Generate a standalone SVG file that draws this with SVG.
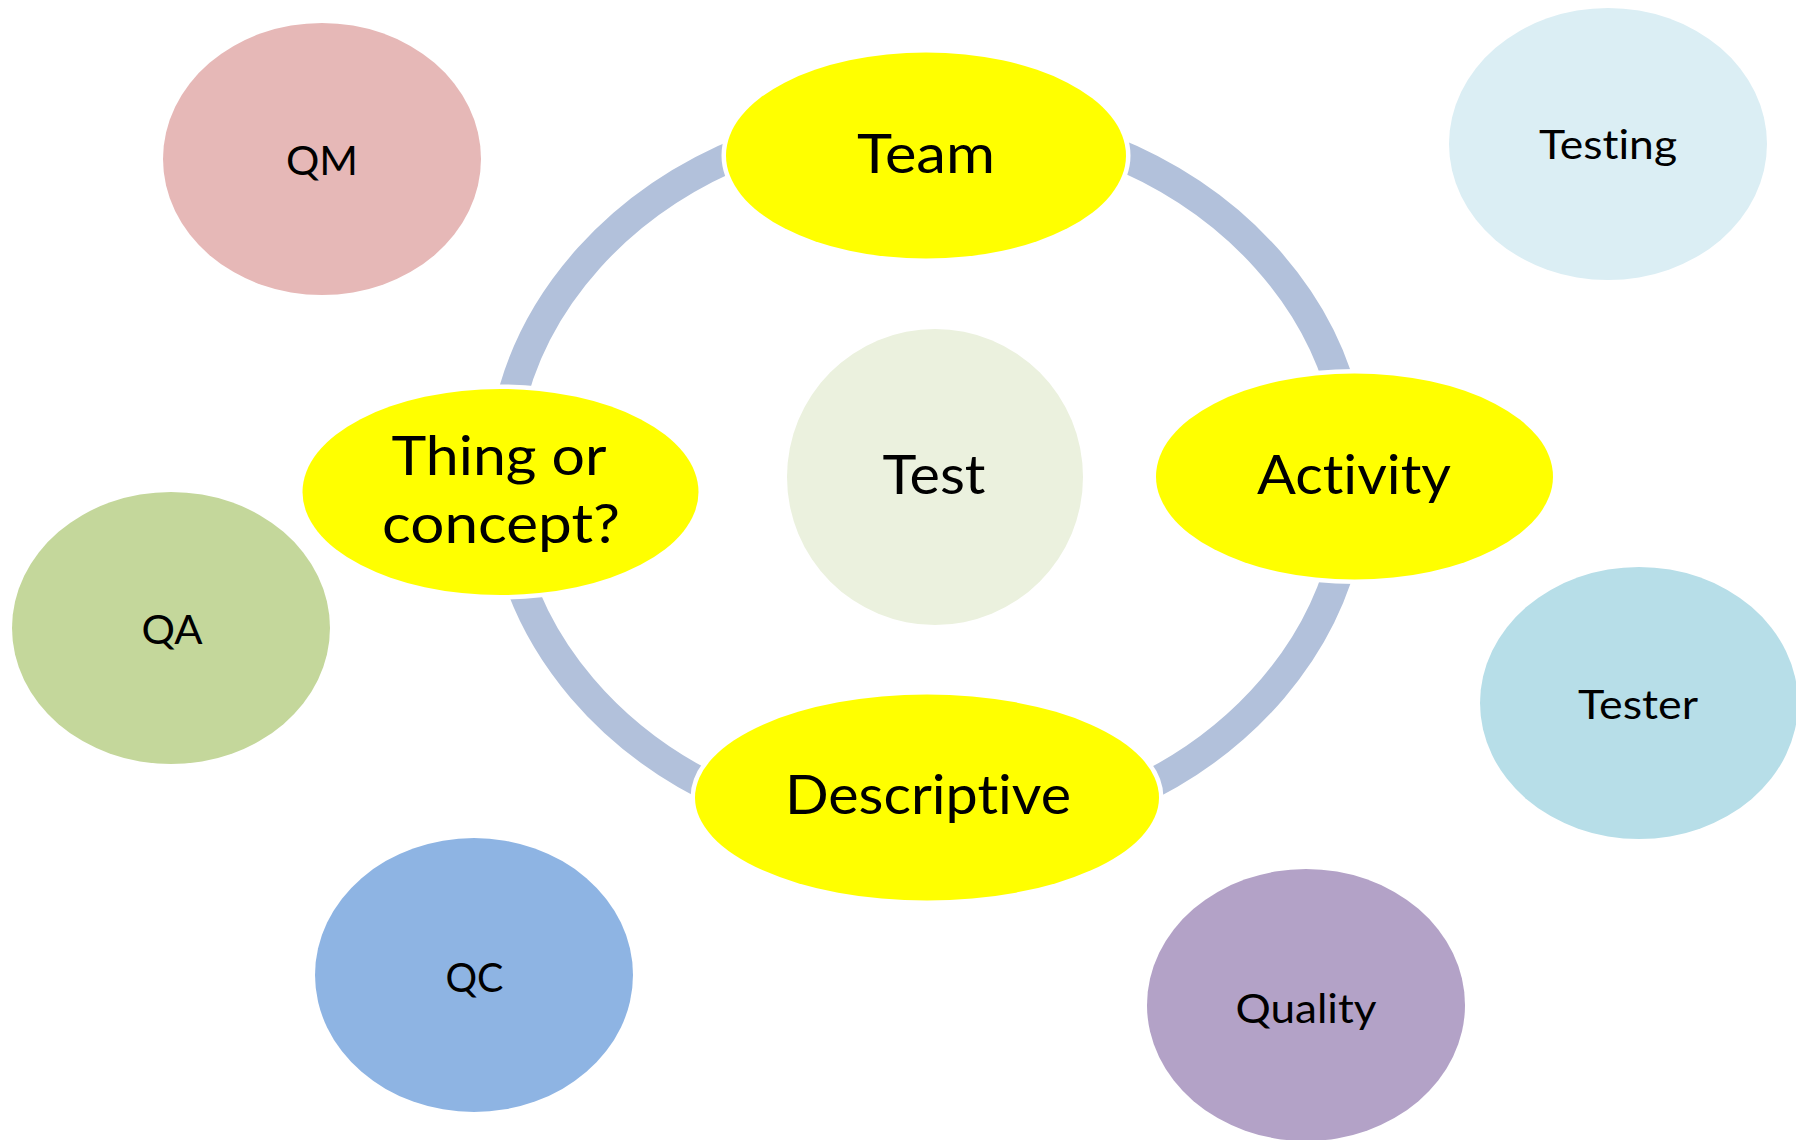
<svg xmlns="http://www.w3.org/2000/svg" width="1796" height="1140" viewBox="0 0 1796 1140">
<style>
  .cyc { fill: #FFFF00; stroke: #FFFFFF; stroke-width: 9; paint-order: stroke; }
  .arc { fill: none; stroke: #B2C1DB; stroke-width: 30; stroke-linecap: butt; }
  .big { font-family: Lato, "Open Sans", "Liberation Sans", sans-serif; font-size: 55px; fill: #000000; text-anchor: middle; font-variant-ligatures: none; font-feature-settings: "liga" 0, "clig" 0; }
  .small { font-family: Lato, "Open Sans", "Liberation Sans", sans-serif; font-size: 41px; fill: #000000; text-anchor: middle; font-variant-ligatures: none; font-feature-settings: "liga" 0, "clig" 0; }
</style>
<rect x="0" y="0" width="1796" height="1140" fill="#FFFFFF"/>

<g id="outer-QM"><ellipse cx="322" cy="159" rx="159" ry="136" fill="#E6B8B7"/><text class="small" x="322" y="175" textLength="72" lengthAdjust="spacingAndGlyphs">QM</text></g>
<g id="outer-Testing"><ellipse cx="1608" cy="144" rx="159" ry="136" fill="#DBEEF4"/><text class="small" x="1608" y="159" textLength="138" lengthAdjust="spacingAndGlyphs">Testing</text></g>
<g id="outer-QA"><ellipse cx="171" cy="628" rx="159" ry="136" fill="#C4D79B"/><text class="small" x="172" y="644" textLength="61" lengthAdjust="spacingAndGlyphs">QA</text></g>
<g id="outer-QC"><ellipse cx="474" cy="975" rx="159" ry="137" fill="#8EB4E3"/><text class="small" x="474.5" y="991.5" textLength="58" lengthAdjust="spacingAndGlyphs">QC</text></g>
<g id="outer-Tester"><ellipse cx="1639" cy="703" rx="159" ry="136" fill="#B7DEE8"/><text class="small" x="1638" y="718.5" textLength="120" lengthAdjust="spacingAndGlyphs">Tester</text></g>
<g id="outer-Quality"><ellipse cx="1306" cy="1005" rx="159" ry="136" fill="#B3A2C7"/><text class="small" x="1306" y="1023" textLength="141" lengthAdjust="spacingAndGlyphs">Quality</text></g>

<g id="connectors">
  <path class="arc" d="M 1107.5 149.8 A 426 361 0 0 1 1347.5 416.6"/>
  <path class="arc" d="M 1347.5 537.4 A 426 361 0 0 1 1127.5 795.7"/>
  <path class="arc" d="M 727.5 795.7 A 426 361 0 0 1 507.5 537.4"/>
  <path class="arc" d="M 507.5 416.6 A 426 361 0 0 1 747.5 149.8"/>
</g>

<g id="center-Test"><circle cx="935" cy="477" r="148" fill="#EBF1DE"/><text class="big" x="934" y="494.3" textLength="103" lengthAdjust="spacingAndGlyphs">Test</text></g>
<g id="node-Team"><ellipse class="cyc" cx="926" cy="155.5" rx="200" ry="103"/><text class="big" x="926" y="172.7" textLength="138" lengthAdjust="spacingAndGlyphs">Team</text></g>
<g id="node-Activity"><ellipse class="cyc" cx="1354.5" cy="476.5" rx="198.5" ry="103"/><text class="big" x="1354" y="494.3" textLength="194" lengthAdjust="spacingAndGlyphs">Activity</text></g>
<g id="node-Descriptive"><ellipse class="cyc" cx="927" cy="797.5" rx="232" ry="103"/><text class="big" x="928" y="814.3" textLength="286" lengthAdjust="spacingAndGlyphs">Descriptive</text></g>
<g id="node-Thing"><ellipse class="cyc" cx="500.5" cy="492" rx="198" ry="103"/><text class="big" x="499" y="474.6" textLength="215" lengthAdjust="spacingAndGlyphs">Thing or</text><text class="big" x="501" y="543.4" textLength="238" lengthAdjust="spacingAndGlyphs">concept?</text></g>
</svg>
